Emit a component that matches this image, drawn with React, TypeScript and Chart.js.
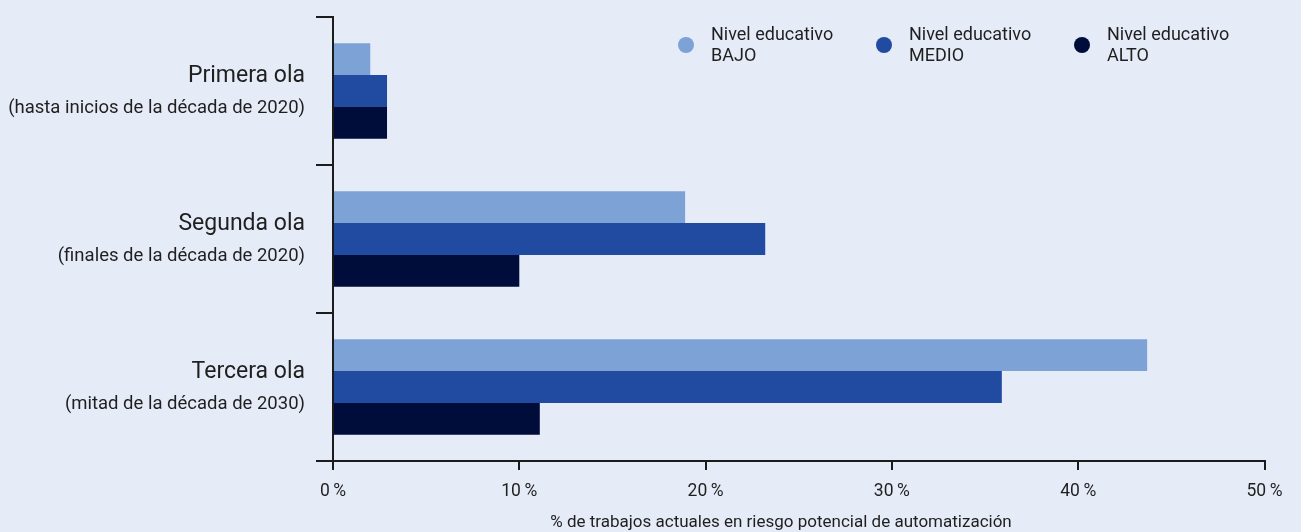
import React, { useEffect, useRef } from "react";
import { Chart, registerables } from "chart.js";

Chart.register(...registerables);

const categories = ["Primera ola", "Segunda ola", "Tercera ola"];
const categorySubtitles = [
  "(hasta inicios de la década de 2020)",
  "(finales de la década de 2020)",
  "(mitad de la década de 2030)",
];
const legendPrefix = "Nivel educativo";
const levels = ["BAJO", "MEDIO", "ALTO"];
const bajo = [2.0, 18.9, 43.7];
const medio = [2.9, 23.2, 35.9];
const alto = [2.9, 10.0, 11.1];
const seriesColors = ["#7CA2D6", "#214BA1", "#000D3B"];
const xTicks = [0, 10, 20, 30, 40, 50];
const xTitle = "% de trabajos actuales en riesgo potencial de automatización";

const BG = "#E5EBF7";
const INK = "#1c1c1c";
const TEXT = "#1f1f1f";
const FONT = "Roboto, 'Noto Sans', sans-serif";

export default function App() {
  const ref = useRef<HTMLCanvasElement | null>(null);

  useEffect(() => {
    document.body.style.margin = "0";
    document.body.style.background = BG;
    const canvas = ref.current!;
    const bgPlugin = {
      id: "bg",
      beforeDraw(chart: any) {
        const { ctx, width, height } = chart;
        ctx.save();
        ctx.fillStyle = BG;
        ctx.fillRect(0, 0, width, height);
        ctx.restore();
      },
    };
    const labelsPlugin = {
      id: "ylabels",
      afterDraw(chart: any) {
        const { ctx, chartArea } = chart;
        const y = chart.scales.y;
        ctx.save();
        ctx.fillStyle = TEXT;
        ctx.textAlign = "right";
        ctx.textBaseline = "middle";
        categories.forEach((c, i) => {
          const py = y.getPixelForValue(i);
          const rx = chartArea.left - 28;
          ctx.font = `400 23px ${FONT}`;
          ctx.fillText(c, rx, py - 15);
          ctx.font = `400 18.5px ${FONT}`;
          ctx.fillText(categorySubtitles[i], rx, py + 17);
        });
        // x axis title
        ctx.textAlign = "center";
        ctx.font = `400 17px ${FONT}`;
        ctx.fillText(xTitle, 781, 523);
        ctx.restore();
      },
    };
    const legendPlugin = {
      id: "customLegend",
      afterDraw(chart: any) {
        const { ctx } = chart;
        ctx.save();
        levels.forEach((lv, i) => {
          const cx = 686 + i * 198;
          const cy = 45;
          ctx.beginPath();
          ctx.fillStyle = seriesColors[i];
          ctx.arc(cx, cy, 8, 0, Math.PI * 2);
          ctx.fill();
          ctx.fillStyle = TEXT;
          ctx.textAlign = "left";
          ctx.textBaseline = "middle";
          ctx.font = `400 18px ${FONT}`;
          ctx.fillText(legendPrefix, cx + 25, 35);
          ctx.fillText(lv, cx + 25, 56);
        });
        ctx.restore();
      },
    };

    const chart = new Chart(canvas, {
      type: "bar",
      data: {
        labels: categories,
        datasets: [bajo, medio, alto].map((d, i) => ({
          label: `${legendPrefix} ${levels[i]}`,
          data: d,
          backgroundColor: seriesColors[i],
          borderWidth: 0,
          categoryPercentage: 0.646,
          barPercentage: 1,
        })),
      },
      options: {
        indexAxis: "y",
        animation: false,
        responsive: false,
        maintainAspectRatio: false,
        layout: { padding: { left: 0, right: 36.5, top: 17, bottom: 0 } },
        plugins: {
          legend: { display: false },
          tooltip: { enabled: false },
        },
        scales: {
          y: {
            type: "category",
            offset: true,
            grid: {
              offset: true,
              drawOnChartArea: false,
              drawTicks: true,
              tickLength: 17,
              color: INK,
              lineWidth: 2,
            },
            border: { display: true, color: INK, width: 2 },
            ticks: { display: false },
            afterFit(scale: any) {
              scale.width = 333;
            },
          },
          x: {
            type: "linear",
            min: xTicks[0],
            max: xTicks[xTicks.length - 1],
            afterBuildTicks(scale: any) {
              scale.ticks = xTicks.map((v) => ({ value: v }));
            },
            grid: {
              drawOnChartArea: false,
              drawTicks: true,
              tickLength: 9,
              color: INK,
              lineWidth: 2,
            },
            border: { display: true, color: INK, width: 2 },
            ticks: {
              color: TEXT,
              font: { family: FONT, size: 17.5, weight: "400" as any },
              padding: 11,
              maxRotation: 0,
              callback: (v: any) => `${v}\u2009%`,
            },
            title: { display: false },
            afterFit(scale: any) {
              scale.height = 71;
            },
          },
        },
      },
      plugins: [bgPlugin, labelsPlugin, legendPlugin],
    });
    return () => chart.destroy();
  }, []);

  return (
    <div style={{ width: 1301, height: 532, overflow: "hidden" }}>
      <canvas ref={ref} width={1301} height={532} style={{ display: "block" }} />
    </div>
  );
}
